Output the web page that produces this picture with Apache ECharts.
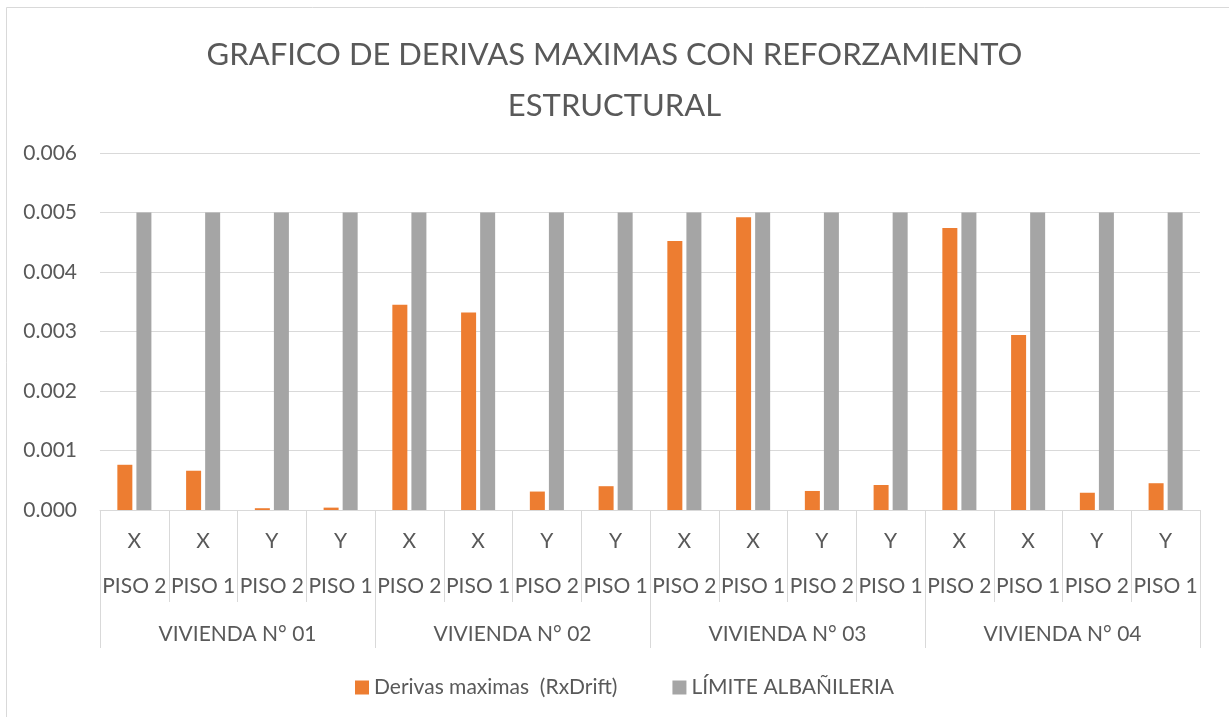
<!DOCTYPE html>
<html>
<head>
<meta charset="utf-8">
<script src="https://cdn.jsdelivr.net/npm/echarts@6/dist/echarts.min.js"></script>
<style>
  html, body { margin: 0; padding: 0; background: #ffffff; }
  #chart { width: 1229px; height: 717px; }
</style>
</head>
<body>
<div id="chart"></div>
<script>
// Category levels (innermost first)
const direccion = ['X', 'X', 'Y', 'Y', 'X', 'X', 'Y', 'Y', 'X', 'X', 'Y', 'Y', 'X', 'X', 'Y', 'Y'];
const pisos = ['PISO 2', 'PISO 1', 'PISO 2', 'PISO 1', 'PISO 2', 'PISO 1', 'PISO 2', 'PISO 1',
               'PISO 2', 'PISO 1', 'PISO 2', 'PISO 1', 'PISO 2', 'PISO 1', 'PISO 2', 'PISO 1'];
const viviendas = ['VIVIENDA N° 01', 'VIVIENDA N° 02', 'VIVIENDA N° 03', 'VIVIENDA N° 04'];

// Series values
const derivasMaximas = [0.00076, 0.00066, 0.00003, 0.00004,
                        0.00345, 0.00332, 0.00031, 0.00040,
                        0.00452, 0.00492, 0.00032, 0.00042,
                        0.00474, 0.00294, 0.00029, 0.00045];
const limiteAlbanileria = [0.005, 0.005, 0.005, 0.005, 0.005, 0.005, 0.005, 0.005,
                           0.005, 0.005, 0.005, 0.005, 0.005, 0.005, 0.005, 0.005];

// Value axis ticks
const yMin = 0, yMax = 0.006, yStep = 0.001;

const txt = '#595959';
const line = '#d9d9d9';
const font = 'Lato';

const chart = echarts.init(document.getElementById('chart'), null, { renderer: 'canvas' });

chart.setOption({
  backgroundColor: '#ffffff',
  animation: false,
  textStyle: { fontFamily: font },
  graphic: [{
    type: 'rect',
    shape: { x: 6.5, y: 7.5, width: 1400, height: 900 },
    style: { fill: 'none', stroke: line, lineWidth: 1 },
    silent: true,
    z: -10
  }],
  title: {
    text: 'GRAFICO DE DERIVAS MAXIMAS CON REFORZAMIENTO\nESTRUCTURAL',
    left: 'center',
    top: 24,
    textStyle: {
      fontFamily: font,
      fontWeight: 'normal',
      fontSize: 31,
      lineHeight: 51,
      color: txt
    }
  },
  legend: {
    bottom: 14,
    left: 350,
    itemWidth: 14,
    itemHeight: 14,
    itemGap: 55,
    icon: 'rect',
    textStyle: { fontFamily: font, fontSize: 21, color: txt },
    data: ['Derivas maximas  (RxDrift)', 'LÍMITE ALBAÑILERIA']
  },
  grid: { left: 100, right: 29, top: 153, bottom: 207, containLabel: false },
  xAxis: [
    {
      type: 'category',
      data: direccion,
      position: 'bottom',
      axisLine: { show: true, lineStyle: { color: line, width: 1 } },
      axisTick: { show: true, interval: 0, length: 92, lineStyle: { color: line, width: 1 } },
      axisLabel: { interval: 0, margin: 21, fontFamily: font, fontSize: 21, lineHeight: 21, color: txt },
      splitLine: { show: false }
    },
    {
      type: 'category',
      data: pisos,
      position: 'bottom',
      axisLine: { show: false },
      axisTick: { show: false },
      axisLabel: { interval: 0, margin: 66, fontFamily: font, fontSize: 21, lineHeight: 21, color: txt },
      splitLine: { show: false }
    },
    {
      type: 'category',
      data: viviendas,
      position: 'bottom',
      axisLine: { show: false },
      axisTick: { show: true, interval: 0, length: 138, lineStyle: { color: line, width: 1 } },
      axisLabel: { interval: 0, margin: 114, fontFamily: font, fontSize: 21, lineHeight: 21, color: txt },
      splitLine: { show: false }
    }
  ],
  yAxis: {
    type: 'value',
    min: yMin,
    max: yMax,
    interval: yStep,
    axisLine: { show: false },
    axisTick: { show: false },
    axisLabel: {
      margin: 23,
      fontFamily: font,
      fontSize: 21,
      color: txt,
      formatter: v => v.toFixed(3)
    },
    splitLine: { lineStyle: { color: line, width: 1 } }
  },
  series: [
    {
      name: 'Derivas maximas  (RxDrift)',
      type: 'bar',
      xAxisIndex: 0,
      data: derivasMaximas,
      barWidth: 15,
      barGap: '27%',
      itemStyle: { color: '#ED7D31' }
    },
    {
      name: 'LÍMITE ALBAÑILERIA',
      type: 'bar',
      xAxisIndex: 0,
      data: limiteAlbanileria,
      barWidth: 15,
      barGap: '27%',
      itemStyle: { color: '#A5A5A5' }
    }
  ]
});
</script>
</body>
</html>
